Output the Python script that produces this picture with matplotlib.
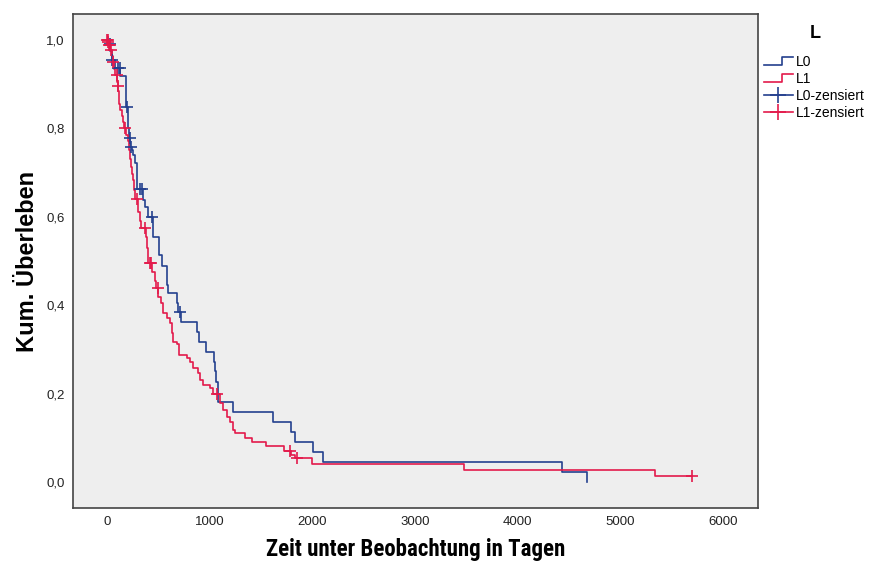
import numpy as np
import matplotlib
matplotlib.use("Agg")
import matplotlib.pyplot as plt
from matplotlib import font_manager
from matplotlib.lines import Line2D
from matplotlib.legend_handler import HandlerBase

plt.rcParams['font.family'] = ['Liberation Sans', 'DejaVu Sans']

# Kaplan-Meier step data (time in days, survival after the step)
l0_times = [0, 15, 35, 45, 80, 130, 182, 190, 205, 212, 225, 240, 256, 270, 289, 354, 370,
            400, 451, 509, 533, 581, 597, 679, 694, 720, 873, 899, 964, 1042, 1052, 1065,
            1078, 1085, 1230, 1613, 1789, 1831, 2003, 2106, 4427, 4671]
l0_surv = [1.0, 0.99, 0.975, 0.955, 0.937, 0.919, 0.864, 0.849, 0.80, 0.778, 0.758, 0.751,
           0.74, 0.721, 0.663, 0.638, 0.623, 0.599, 0.555, 0.514, 0.489, 0.446, 0.428,
           0.404, 0.385, 0.363, 0.34, 0.317, 0.295, 0.272, 0.25, 0.227, 0.208, 0.182,
           0.159, 0.136, 0.114, 0.091, 0.068, 0.046, 0.023, 0.0]
l0_cens = [29, 46, 104, 127, 198, 224, 230, 321, 338, 435, 711]

l1_times = [0, 8, 18, 32, 45, 55, 68, 80, 98, 108, 113, 117, 121, 126, 145, 160, 170, 188,
            205, 220, 228, 236, 246, 256, 266, 278, 300, 318, 333, 380, 388, 396, 403, 440,
            470, 482, 500, 526, 548, 581, 613, 630, 646, 679, 704, 782, 808, 834, 883, 906,
            938, 1003, 1035, 1100, 1133, 1166, 1198, 1230, 1246, 1344, 1409, 1548, 1723,
            1790, 1830, 1993, 3480, 5336, 5700]
l1_surv = [1.0, 0.995, 0.988, 0.978, 0.965, 0.95, 0.935, 0.92, 0.905, 0.895, 0.885, 0.87,
           0.855, 0.842, 0.828, 0.815, 0.80, 0.785, 0.772, 0.751, 0.73, 0.712, 0.698, 0.683,
           0.66, 0.64, 0.612, 0.59, 0.575, 0.555, 0.53, 0.51, 0.495, 0.475, 0.455, 0.44,
           0.419, 0.404, 0.382, 0.37, 0.359, 0.336, 0.317, 0.313, 0.287, 0.28, 0.272,
           0.257, 0.246, 0.231, 0.219, 0.212, 0.2, 0.178, 0.163, 0.148, 0.136, 0.118,
           0.11, 0.099, 0.091, 0.081, 0.069, 0.061, 0.054, 0.040, 0.027, 0.014, 0.014]
l1_cens = [2, 6, 13, 20, 29, 36, 61, 94, 110, 175, 293, 370, 415, 425, 493, 1068, 1782,
           1853, 5700]

x_ticks = [0, 1000, 2000, 3000, 4000, 5000, 6000]
y_ticks = [0.0, 0.2, 0.4, 0.6, 0.8, 1.0]

blue = '#24408E'
red = '#E31A4B'

# x label in the original is a narrow bold face; use one if installed
installed = {f.name for f in font_manager.fontManager.ttflist}
narrow = [n for n in ('Liberation Sans Narrow', 'Roboto Condensed', 'Open Sans Condensed')
          if n in installed]
if narrow:
    xlab_font, xlab_size = narrow[0], 16.5
else:
    xlab_font, xlab_size = 'Liberation Sans', 14


def surv_at(times, surv, t):
    i = np.searchsorted(times, t, side='right') - 1
    return np.asarray(surv)[i]


class StepHandler(HandlerBase):
    def create_artists(self, legend, orig_handle, xdescent, ydescent, width, height,
                       fontsize, trans):
        x0 = -xdescent
        xs = [x0, x0 + width * 0.62, x0 + width * 0.62, x0 + width]
        ys = [height * 0.1 - ydescent, height * 0.1 - ydescent,
              height * 0.85 - ydescent, height * 0.85 - ydescent]
        ln = Line2D(xs, ys, color=orig_handle.get_color(), lw=1.2)
        ln.set_transform(trans)
        return [ln]


fig = plt.figure(figsize=(8.74, 5.63), dpi=100)
ax = fig.add_axes([73 / 874, 1 - 508 / 563, 685 / 874, 494 / 563])
ax.set_facecolor('#EEEEEE')

ax.step(l0_times, l0_surv, where='post', color=blue, lw=1.2)
ax.step(l1_times, l1_surv, where='post', color=red, lw=1.2)
ax.plot(l0_cens, surv_at(l0_times, l0_surv, l0_cens), ls='none', marker='+',
        color=blue, ms=8, mew=1.2)
ax.plot(l1_cens, surv_at(l1_times, l1_surv, l1_cens), ls='none', marker='+',
        color=red, ms=8, mew=1.2)

ax.set_xlim(-330, 6340)
ax.set_ylim(-0.059, 1.059)
ax.set_xticks(x_ticks)
ax.set_xticklabels([str(v) for v in x_ticks])
ax.set_yticks(y_ticks)
ax.set_yticklabels([f"{v:.1f}".replace('.', ',') for v in y_ticks])
ax.tick_params(length=0, labelsize=9.5, colors='#222222', pad=6)
for s in ax.spines.values():
    s.set_color('#444444')
    s.set_linewidth(1.2)

ax.set_xlabel("Zeit unter Beobachtung in Tagen", fontsize=xlab_size, fontweight='bold',
              family=xlab_font, labelpad=7)
ax.set_ylabel("Kum. Überleben", fontsize=17, fontweight='bold', labelpad=5)

fig.text(815 / 874, 1 - 33 / 563, "L", fontsize=13, fontweight='bold',
         ha='center', va='center')

h_l0 = Line2D([], [], color=blue)
h_l1 = Line2D([], [], color=red)
h_c0 = Line2D([], [], color=blue, marker='+', ms=11, mew=1.2, lw=1.2)
h_c1 = Line2D([], [], color=red, marker='+', ms=11, mew=1.2, lw=1.2)
leg = fig.legend([h_l0, h_l1, h_c0, h_c1], ["L0", "L1", "L0-zensiert", "L1-zensiert"],
                 handler_map={h_l0: StepHandler(), h_l1: StepHandler()},
                 loc='upper left', bbox_to_anchor=(758 / 874, 1 - 49 / 563),
                 frameon=False, fontsize=10, handlelength=2.1,
                 handletextpad=0.2, labelspacing=0.22, borderaxespad=0, numpoints=1)

fig.savefig("out.png", dpi=100)
